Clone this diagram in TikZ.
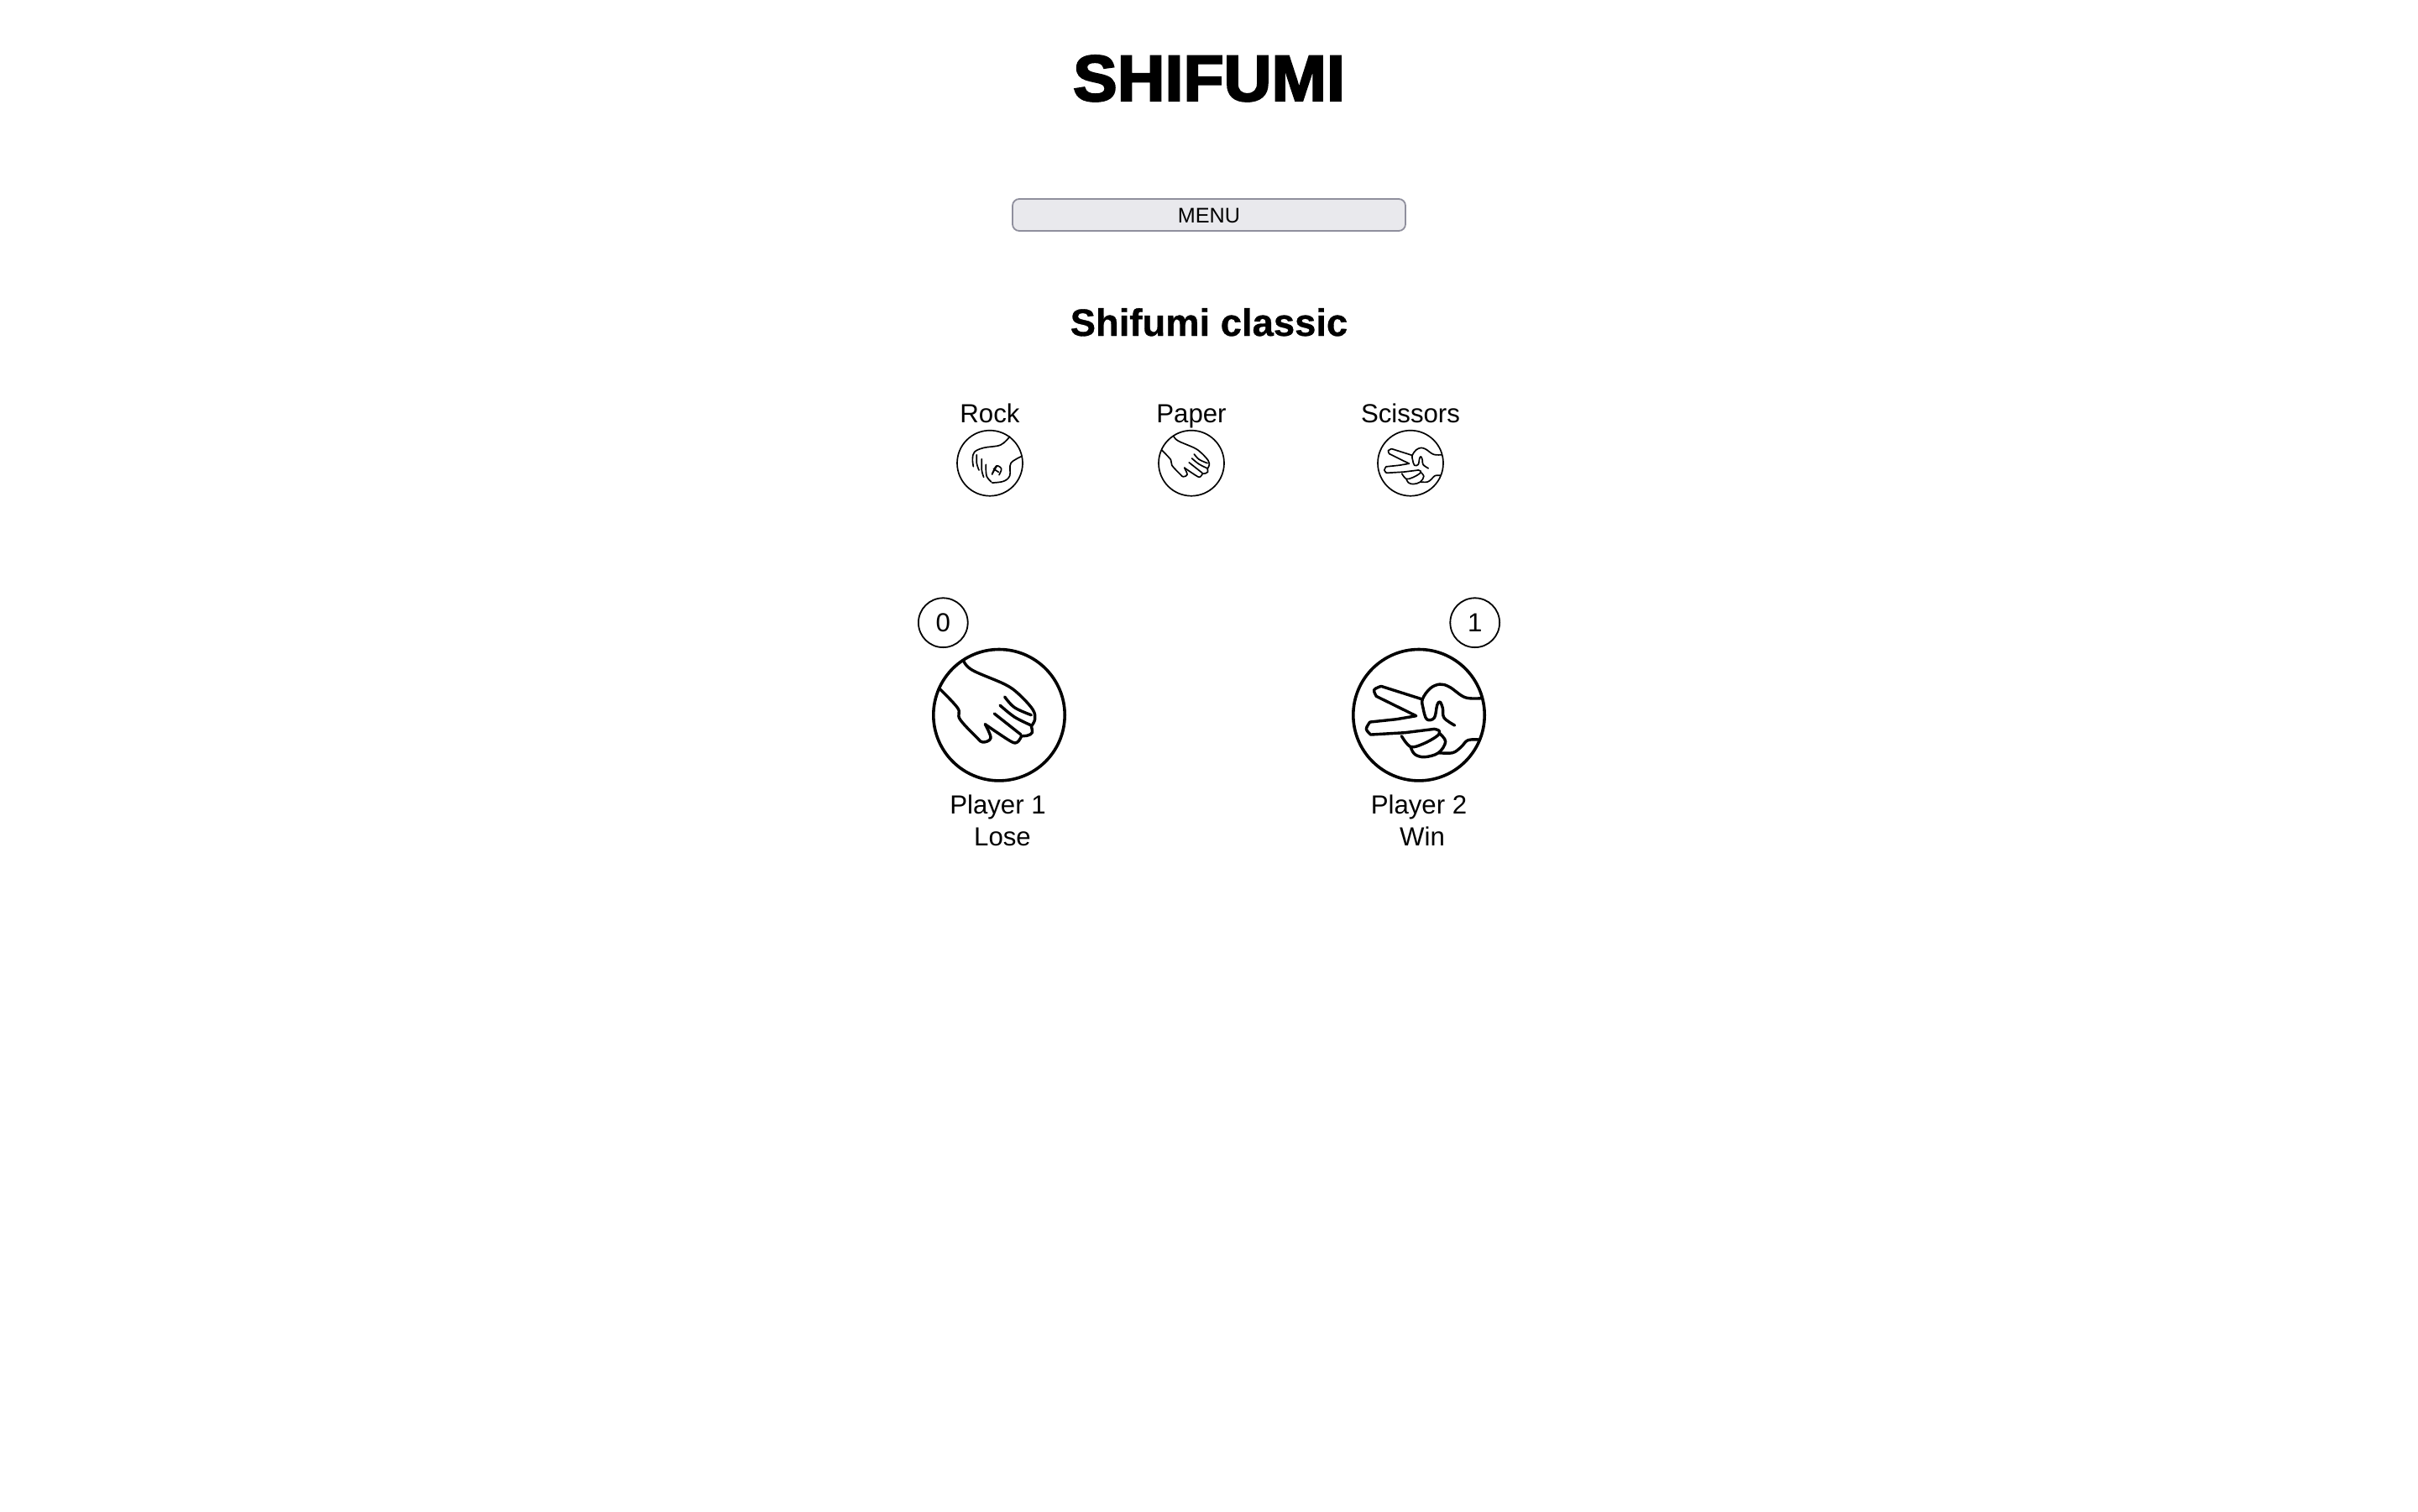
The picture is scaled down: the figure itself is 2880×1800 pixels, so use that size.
\documentclass[tikz,border=0pt]{standalone}
\usepackage{fontspec}
\setmainfont{Liberation Sans}
\newfontfamily\titlefont[FakeBold=3,FakeStretch=1.02]{Liberation Sans Bold}
\newfontfamily\headfont[FakeBold=0.7]{Liberation Sans Bold}
\tikzset{
  x=0.25pt,y=-0.25pt,
  bodytext/.style={anchor=base,inner sep=0pt,font=\fontsize{7.8pt}{9pt}\selectfont},
  ringbig/.style={draw=black,line width=0.9pt,circle,minimum size=39.1pt,inner sep=0pt},
  ringsmall/.style={draw=black,line width=0.42pt,circle,minimum size=19.5pt,inner sep=0pt},
  ringscore/.style={draw=black,line width=0.45pt,circle,minimum size=14.7pt,inner sep=0pt},
  ink/.style={draw=black,line cap=round,line join=round},
  menubtn/.style={draw=btnline,fill=btnfill,line width=0.45pt,rounded corners=2pt,minimum width=117pt,minimum height=9.5pt,inner sep=0pt}
}
\definecolor{btnfill}{HTML}{E9E9ED}
\definecolor{btnline}{HTML}{8F8F9D}
\newcommand{\sm}[1]{plot[smooth,tension=0.6] coordinates {#1}}
\newcommand{\paperhand}[4]{% cx cy scale width
 \begin{scope}[shift={(#1,#2)},scale=#3,shift={(-330,-515)},ink,line width=#4]
  \draw \sm{(203,322)(235,355)(350,405)(400,440)(450,495)(458,530)(445,555)};
  \draw \sm{(445,555)(448,578)(432,588)(410,590)};
  \draw \sm{(410,590)(395,612)(370,608)(280,548)};
  \draw \sm{(280,548)(300,597)(272,612)(250,595)(190,530)(182,490)(118,422)};
  \draw \sm{(350,450)(385,488)(445,515)};
  \draw \sm{(333,480)(385,522)(445,552)};
  \draw \sm{(313,510)(408,585)};
 \end{scope}}
\newcommand{\scissorshand}[4]{%
 \begin{scope}[shift={(#1,#2)},scale=#3,shift={(-330,-515)},ink,line width=#4]
  \draw \sm{(553,455)(495,452)(440,415)(405,405)(370,420)(343,458)(345,490)(358,530)(385,525)(395,480)(405,468)(415,490)(420,525)(458,552)};
  \draw (340,458) -- (195,412) \sm{(195,412)(170,425)(178,448)} -- (320,518) -- (250,530) -- (155,540) \sm{(155,540)(142,565)(158,585)} -- (280,578) -- (385,565);
  \draw \sm{(385,565)(403,572)(395,590)(345,618)(300,628)(268,590)};
  \draw \sm{(300,628)(315,655)(350,665)(400,650)(425,610)(403,580)};
  \draw \sm{(400,650)(450,650)(480,630)(505,605)(545,603)};
 \end{scope}}
\newcommand{\rockhand}[4]{%
 \begin{scope}[shift={(#1,#2)},scale=#3,shift={(-147,-140)},ink,line width=#4]
  \draw \sm{(218,45)(185,75)(125,85)(92,100)(85,125)(88,152)};
  \draw \sm{(100,110)(100,140)(108,165)};
  \draw \sm{(118,125)(118,165)(125,190)};
  \draw \sm{(133,145)(135,185)(152,207)};
  \draw \sm{(262,115)(222,140)(218,185)(195,205)(155,210)};
  \draw \sm{(155,180)(170,150)(188,160)(180,182)};
  \draw (172,150) -- (155,178);
  \draw (160,160) -- (178,172);
 \end{scope}}
\begin{document}
\begin{tikzpicture}
\useasboundingbox (0,0) rectangle (2880,1800);
\node[anchor=base,inner sep=0pt,font=\fontsize{19.3pt}{23pt}\titlefont] (title) at (1440,120) {SHIFUMI};
\node[menubtn] (menu) at (1440,256) {};
\node[anchor=base,inner sep=0pt,font=\fontsize{6.3pt}{7pt}\selectfont] (menutext) at (1440,265) {MENU};
\node[anchor=base,inner sep=0pt,font=\fontsize{11.35pt}{13pt}\headfont] (heading) at (1440,400) {Shifumi classic};
\node[bodytext] (lrock) at (1179,503) {Rock};
\node[bodytext] (lpaper) at (1419,503) {Paper};
\node[bodytext] (lscis) at (1680,503) {Scissors};
\node[ringsmall] (crock) at (1179,551.7) {};
\node[ringsmall] (cpaper) at (1419,551.7) {};
\node[ringsmall] (cscis) at (1680,551.7) {};
\rockhand{1179}{551.7}{0.3333}{0.42pt}
\paperhand{1419}{551.7}{0.166}{0.42pt}
\scissorshand{1680}{551.7}{0.166}{0.42pt}
\node[ringscore] (s1) at (1123.3,741.7) {};
\node[bodytext] (s1t) at (1123.3,752) {0};
\node[ringscore] (s2) at (1756.7,741.7) {};
\node[bodytext] (s2t) at (1756.7,752) {1};
\node[ringbig] (p1) at (1190,851.7) {};
\node[ringbig] (p2) at (1690,851.7) {};
\paperhand{1190}{851.7}{0.3333}{0.85pt}
\scissorshand{1690}{851.7}{0.3333}{0.85pt}
\node[bodytext] (n1) at (1188.5,969) {Player 1};
\node[bodytext] (r1) at (1194,1007) {Lose};
\node[bodytext] (n2) at (1690,969) {Player 2};
\node[bodytext] (r2) at (1694,1007) {Win};
\end{tikzpicture}
\end{document}
